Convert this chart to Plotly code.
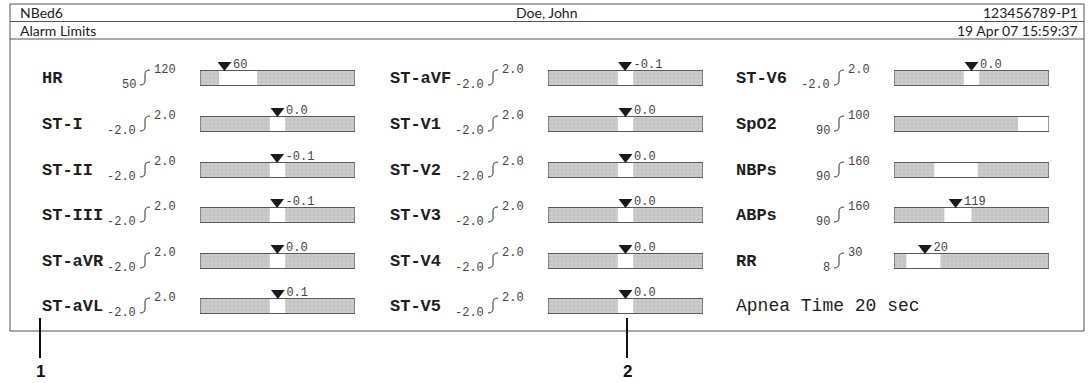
import plotly.graph_objects as go

# Alarm limits screen of a patient monitor

W, H = 1092, 383

bed = "NBed6"
patient = "Doe, John"
patient_id = "123456789-P1"
screen_title = "Alarm Limits"
timestamp = "19 Apr 07 15:59:37"

names = ["HR", "ST-I", "ST-II", "ST-III", "ST-aVR", "ST-aVL",
         "ST-aVF", "ST-V1", "ST-V2", "ST-V3", "ST-V4", "ST-V5",
         "ST-V6", "SpO2", "NBPs", "ABPs", "RR"]
low_limit = [50, -2.0, -2.0, -2.0, -2.0, -2.0,
             -2.0, -2.0, -2.0, -2.0, -2.0, -2.0,
             -2.0, 90, 90, 90, 8]
high_limit = [120, 2.0, 2.0, 2.0, 2.0, 2.0,
              2.0, 2.0, 2.0, 2.0, 2.0, 2.0,
              2.0, 100, 160, 160, 30]
scale_min = [15, -20, -20, -20, -20, -20,
             -20, -20, -20, -20, -20, -20,
             -20, 50, 25, -40, 0]
scale_max = [300, 20, 20, 20, 20, 20,
             20, 20, 20, 20, 20, 20,
             20, 100, 275, 360, 100]
current = [60, 0.0, -0.1, -0.1, 0.0, 0.1,
           -0.1, 0.0, 0.0, 0.0, 0.0, 0.0,
           0.0, None, None, 119, 20]
decimals = [0, 1, 1, 1, 1, 1,
            1, 1, 1, 1, 1, 1,
            1, 0, 0, 0, 0]
apnea_time = 20
callouts = ["1", "2"]

# screen geometry (pixels)
col_off = [0, 348, 694]
row_y = [78, 124, 170, 215, 261, 306]
LABEL_X, LOW_R, BRK_X, HIGH_L, BAR_X0, BAR_X1 = 40, 138, 145, 152, 200, 355


def fx(x):
    return x / W


def fy(y):
    return 1 - y / H


def fmt(v, d):
    return f"{v:.{d}f}"


def note(x, y, text, anchor, font, yanchor="middle"):
    return dict(x=fx(x), y=fy(y), xref="paper", yref="paper", text=text,
                xanchor=anchor, yanchor=yanchor, showarrow=False, font=font)


fig = go.Figure()
annos = []
shapes = []
mono = "Liberation Mono"

for i, name in enumerate(names):
    col, row = divmod(i, 6)
    off = col_off[col]
    yc = row_y[row]
    n = "" if i == 0 else str(i + 1)
    xa, ya = "x" + n, "y" + n
    fig.layout["xaxis" + n] = dict(domain=[fx(BAR_X0 + off), fx(BAR_X1 + off)],
                                   range=[scale_min[i], scale_max[i]],
                                   visible=False, anchor=ya, fixedrange=True)
    fig.layout["yaxis" + n] = dict(domain=[fy(yc + 12), fy(yc - 18)],
                                   range=[-0.8, 1.2], visible=False,
                                   anchor=xa, fixedrange=True)
    span = scale_max[i] - scale_min[i]
    fig.add_trace(go.Bar(x=[span], base=[scale_min[i]], y=[0], width=1,
                         orientation="h",
                         marker=dict(color="#c8c8c8", line_width=0,
                                     pattern=dict(shape=".", fgcolor="#b4b4b4",
                                                  bgcolor="#cbcbcb", size=4,
                                                  solidity=0.3)),
                         xaxis=xa, yaxis=ya, opacity=1))
    fig.add_trace(go.Bar(x=[high_limit[i] - low_limit[i]], base=[low_limit[i]],
                         y=[0], width=1, orientation="h",
                         marker=dict(color="white", line_width=0),
                         xaxis=xa, yaxis=ya, opacity=1))
    fig.add_trace(go.Bar(x=[span], base=[scale_min[i]], y=[0], width=1,
                         orientation="h",
                         marker=dict(color="rgba(0,0,0,0)",
                                     line=dict(color="#5a5a5a", width=1.2)),
                         xaxis=xa, yaxis=ya, opacity=1))
    if current[i] is not None:
        fig.add_trace(go.Scatter(x=[current[i]], y=[0.87], mode="markers+text",
                                 marker=dict(symbol="triangle-down", size=12,
                                             color="#1a1a1a"),
                                 text=[fmt(current[i], decimals[i])],
                                 textposition="middle right",
                                 textfont=dict(family=mono, size=12, color="#444"),
                                 cliponaxis=False, xaxis=xa, yaxis=ya))

    # parameter label, limits and bracket
    annos.append(note(LABEL_X + off, yc, f"<b>{name}</b>", "left",
                      dict(family=mono, size=17, color="#1e1e1e")))
    annos.append(note(LOW_R + off, yc + 7, fmt(low_limit[i], decimals[i]), "right",
                      dict(family=mono, size=12, color="#444")))
    annos.append(note(HIGH_L + off, yc - 8, fmt(high_limit[i], decimals[i]), "left",
                      dict(family=mono, size=12, color="#444")))
    bx = BRK_X + off
    path = (f"M {fx(bx - 5)},{fy(yc + 7)} Q {fx(bx)},{fy(yc + 7)} {fx(bx)},{fy(yc + 3)} "
            f"L {fx(bx)},{fy(yc - 4)} Q {fx(bx)},{fy(yc - 8)} {fx(bx + 5)},{fy(yc - 8)}")
    shapes.append(dict(type="path", xref="paper", yref="paper", path=path,
                       line=dict(color="#333", width=1)))

annos.append(note(LABEL_X + col_off[2], row_y[5], f"Apnea Time {apnea_time} sec", "left",
                  dict(family=mono, size=18, color="#1e1e1e")))

# header
sans = "Lato"
for txt, x, anchor, y in [(bed, 18, "left", 12.5), (patient, 546, "center", 12.5),
                          (patient_id, 1080, "right", 12.5),
                          (screen_title, 18, "left", 30.5), (timestamp, 1080, "right", 30.5)]:
    annos.append(note(x, y, txt, anchor, dict(family=sans, size=14, color="#222")))

box = dict(color="#555", width=1)
shapes.append(dict(type="rect", xref="paper", yref="paper", x0=fx(10), x1=fx(1084),
                   y0=fy(331), y1=fy(4), line=box))
for yl in (21.5, 39):
    shapes.append(dict(type="line", xref="paper", yref="paper", x0=fx(10), x1=fx(1084),
                       y0=fy(yl), y1=fy(yl), line=box))

# numbered callouts
for lab, x in zip(callouts, [40, 627]):
    shapes.append(dict(type="line", xref="paper", yref="paper", x0=fx(x), x1=fx(x),
                       y0=fy(318), y1=fy(358), line=dict(color="#111", width=2)))
    annos.append(note(x, 371, f"<b>{lab}</b>", "center",
                      dict(family="Liberation Sans", size=17, color="#111")))

fig.update_layout(width=W, height=H, margin=dict(l=0, r=0, t=0, b=0),
                  paper_bgcolor="white", plot_bgcolor="white",
                  barmode="overlay", showlegend=False, hovermode=False,
                  annotations=annos, shapes=shapes)

fig.write_html("out.html", config={"displayModeBar": False},
               post_script="document.body.style.margin='0';")
